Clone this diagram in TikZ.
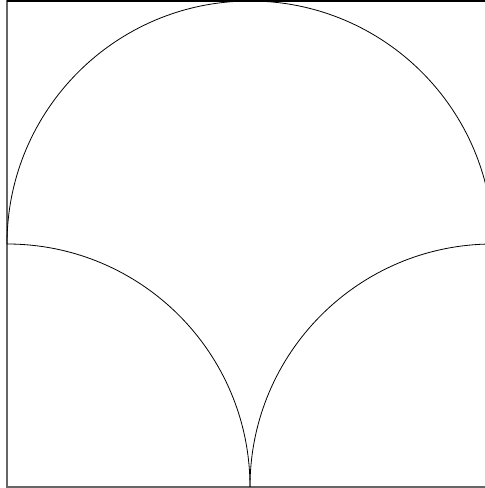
\documentclass[tikz,border=0pt]{standalone}
\begin{document}
\begin{tikzpicture}[x=1pt,y=1pt,
  frame/.style={draw=black!60,line width=1.4pt},
  curve/.style={draw=black,line width=0.8pt}]
\useasboundingbox (0,0) rectangle (485,488);
\clip (0,0) rectangle (485,488);
\fill[white] (0,0) rectangle (485,488);
\draw[frame] (7,1) rectangle (493,487);
\draw[black,line width=1.2pt] (7,487) -- (493,487);
\draw[curve] (7,244) arc[start angle=180,end angle=0,radius=243];
\draw[curve] (7,244) arc[start angle=90,end angle=0,radius=243];
\draw[curve] (250,1) arc[start angle=180,end angle=90,radius=243];
\end{tikzpicture}
\end{document}
